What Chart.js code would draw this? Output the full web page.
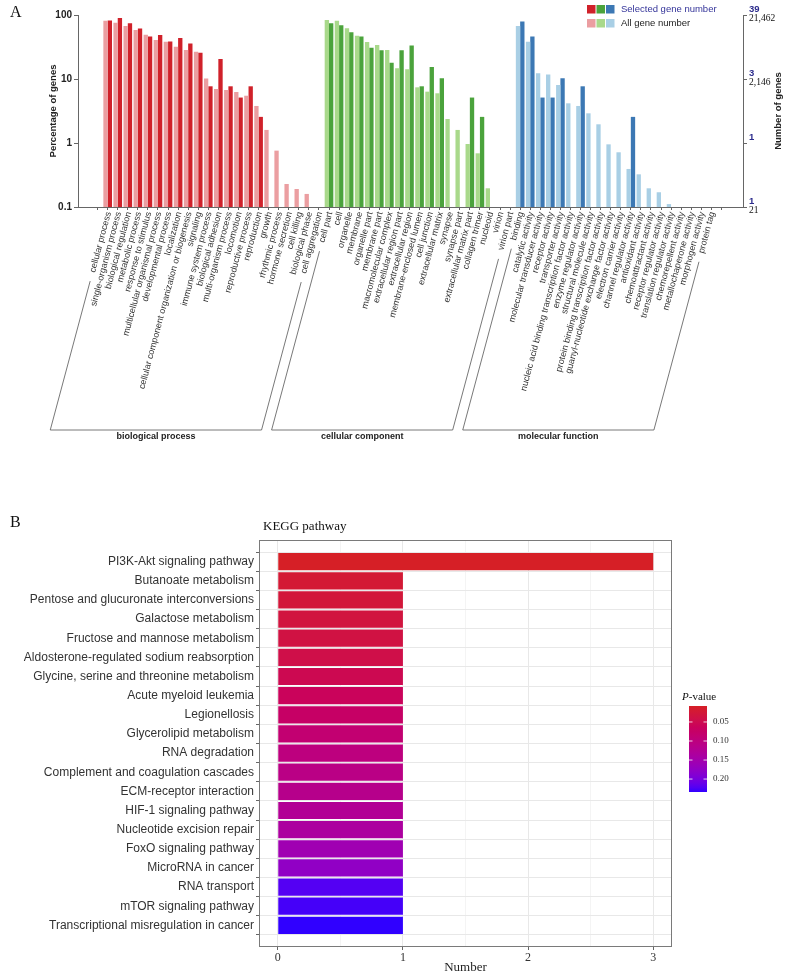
<!DOCTYPE html>
<html>
<head>
<meta charset="UTF-8">
<title>GO and KEGG enrichment</title>
<script src="https://cdn.jsdelivr.net/npm/chart.js"></script>
<style>
  body { margin: 0; background: #fff; }
  #goChart { position: absolute; left: 0; top: 0; }
  #keggChart { position: absolute; left: 0; top: 480px; }
</style>
</head>
<body>
<canvas id="goChart" width="789" height="480"></canvas>
<canvas id="keggChart" width="789" height="493"></canvas>
<script>
// ---- A: GO terms (percent of genes) ----
var bpTerms = ['cellular process', 'single-organism process', 'biological regulation', 'metabolic process',
  'response to stimulus', 'multicellular organismal process', 'developmental process', 'localization',
  'cellular component organization or biogenesis', 'signaling', 'immune system process', 'biological adhesion',
  'multi-organism process', 'locomotion', 'reproductive process', 'reproduction', 'growth', 'rhythmic process',
  'hormone secretion', 'cell killing', 'biological phase', 'cell aggregation'];
var bpAll = [81.5, 75.8, 67.3, 58.3, 49.2, 40.7, 38.3, 32.0, 28.4, 26.7, 10.2, 6.98, 6.73, 6.26, 5.48, 3.79, 1.60, 0.76, 0.229, 0.191, 0.160, null];
var bpSel = [82.1, 89.7, 74.4, 61.5, 46.2, 48.7, 38.5, 43.6, 35.9, 25.6, 7.69, 20.5, 7.69, 5.13, 7.69, 2.56, null, null, null, null, null, null];

var ccTerms = ['cell part', 'cell', 'organelle', 'membrane', 'organelle part', 'membrane part', 'macromolecular complex',
  'extracellular region part', 'extracellular region', 'membrane-enclosed lumen', 'cell junction', 'extracellular matrix',
  'synapse', 'synapse part', 'extracellular matrix part', 'collagen trimer', 'nucleoid', 'virion', 'virion part'];
var ccAll = [83.5, 81.5, 61.9, 47.5, 37.8, 34.0, 28.4, 14.7, 14.2, 7.41, 6.34, 5.98, 2.37, 1.60, 0.964, 0.69, 0.196, null, null];
var ccSel = [74.4, 69.2, 53.8, 46.2, 30.8, 28.2, 17.9, 28.2, 33.3, 7.69, 15.4, 10.3, null, null, 5.13, 2.56, null, null, null];

var mfTerms = ['binding', 'catalytic activity', 'molecular transducer activity', 'receptor activity', 'transporter activity',
  'nucleic acid binding transcription factor activity', 'enzyme regulator activity', 'structural molecule activity',
  'protein binding transcription factor activity', 'guanyl-nucleotide exchange factor activity', 'electron carrier activity',
  'channel regulator activity', 'antioxidant activity', 'chemoattractant activity', 'receptor regulator activity',
  'translation regulator activity', 'chemorepellent activity', 'metallochaperone activity', 'morphogen activity', 'protein tag'];
var mfAll = [67.3, 38.3, 12.3, 11.8, 8.06, 4.17, 3.79, 2.91, 1.96, 0.953, 0.716, 0.393, 0.324, 0.196, 0.170, 0.111, null, null, null, null];
var mfSel = [79.5, 46.2, 5.13, 5.13, 10.3, null, 7.69, null, null, null, null, 2.56, null, null, null, null, null, null, null, null];

var groupNames = ['biological process', 'cellular component', 'molecular function'];
var selColors = ['#d0212a', '#4ba33c', '#3c78b4'];
var allColors = ['#eb9ea1', '#a9d98b', '#a9cfe5'];

var yLevels = [0.1, 1, 10, 100];
var yLabels = ['0.1', '1', '10', '100'];
var rightSel = ['1', '1', '3', '39'];
var rightAll = ['21', '', '2,146', '21,462'];

// ---- B: KEGG pathways ----
var keggTerms = ['PI3K-Akt signaling pathway', 'Butanoate metabolism', 'Pentose and glucuronate interconversions',
  'Galactose metabolism', 'Fructose and mannose metabolism', 'Aldosterone-regulated sodium reabsorption',
  'Glycine, serine and threonine metabolism', 'Acute myeloid leukemia', 'Legionellosis', 'Glycerolipid metabolism',
  'RNA degradation', 'Complement and coagulation cascades', 'ECM-receptor interaction', 'HIF-1 signaling pathway',
  'Nucleotide excision repair', 'FoxO signaling pathway', 'MicroRNA in cancer', 'RNA transport',
  'mTOR signaling pathway', 'Transcriptional misregulation in cancer'];
var keggCounts = [3, 1, 1, 1, 1, 1, 1, 1, 1, 1, 1, 1, 1, 1, 1, 1, 1, 1, 1, 1];
var keggP = [0.008, 0.022, 0.027, 0.032, 0.037, 0.043, 0.052, 0.062, 0.073, 0.086,
  0.100, 0.108, 0.115, 0.125, 0.136, 0.156, 0.175, 0.222, 0.228, 0.234];
var pTicks = [0.05, 0.10, 0.15, 0.20];
var numberTicks = ['0', '1', '2', '3'];

var sans = '"Liberation Sans", Arial, sans-serif';
var serif = '"Liberation Serif", "Times New Roman", serif';

// combined GO arrays
var groups = [bpTerms, ccTerms, mfTerms];
var allTerms = [], allData = [], selData = [], allBg = [], selBg = [];
[[bpTerms, bpAll, bpSel], [ccTerms, ccAll, ccSel], [mfTerms, mfAll, mfSel]].forEach(function(g, gi) {
  g[0].forEach(function(t, i) {
    var k = allTerms.length;
    allTerms.push(t);
    allData.push({ x: k, y: g[1][i] });
    selData.push({ x: k, y: g[2][i] });
    allBg.push(allColors[gi]);
    selBg.push(selColors[gi]);
  });
});

var goPlugin = {
  id: 'goDecor',
  afterDraw: function(chart) {
    var ctx = chart.ctx, xs = chart.scales.x, ys = chart.scales.y, a = chart.chartArea;
    var ang = 75 * Math.PI / 180, cs = Math.cos(ang), sn = Math.sin(ang);
    var labelTop = 212, baseY = 430;
    ctx.save();

    // rotated term labels
    ctx.font = '9px ' + sans;
    ctx.fillStyle = '#333';
    var ends = [];
    allTerms.forEach(function(t, i) {
      var x = xs.getPixelForValue(i) + 1;
      ctx.save();
      ctx.translate(x, labelTop);
      ctx.rotate(-ang);
      ctx.textAlign = 'right';
      ctx.textBaseline = 'middle';
      ctx.fillText(t, 0, 0);
      ctx.restore();
      var w = ctx.measureText(t).width + 9;
      ends.push([x - w * cs, labelTop + w * sn]);
    });

    // group brackets
    ctx.strokeStyle = '#555';
    ctx.lineWidth = 0.8;
    ctx.font = 'bold 9px ' + sans;
    ctx.fillStyle = '#222';
    ctx.textAlign = 'center';
    ctx.textBaseline = 'middle';
    var start = 0;
    groups.forEach(function(g, gi) {
      var p = ends[start], q = ends[start + g.length - 1];
      var pb = p[0] - (baseY - p[1]) * cs / sn;
      var qb = q[0] - (baseY - q[1]) * cs / sn;
      ctx.beginPath();
      ctx.moveTo(p[0], p[1]);
      ctx.lineTo(pb, baseY);
      ctx.lineTo(qb, baseY);
      ctx.lineTo(q[0], q[1]);
      ctx.stroke();
      ctx.fillText(groupNames[gi], (pb + qb) / 2, 437);
      start += g.length;
    });

    // left axis title
    ctx.save();
    ctx.translate(53, (a.top + a.bottom) / 2);
    ctx.rotate(-Math.PI / 2);
    ctx.font = 'bold 9.5px ' + sans;
    ctx.fillText('Percentage of genes', 0, 0);
    ctx.restore();

    // right axis
    ctx.strokeStyle = '#666';
    ctx.lineWidth = 1;
    ctx.beginPath();
    ctx.moveTo(a.right + 0.5, a.top);
    ctx.lineTo(a.right + 0.5, a.bottom);
    ctx.stroke();
    ctx.textAlign = 'left';
    yLevels.forEach(function(v, i) {
      var y = ys.getPixelForValue(v);
      ctx.beginPath();
      ctx.moveTo(a.right, y + 0.5);
      ctx.lineTo(a.right + 4, y + 0.5);
      ctx.stroke();
      ctx.font = 'bold 9.5px ' + sans;
      ctx.fillStyle = '#2b2b8c';
      ctx.fillText(rightSel[i], a.right + 6, y - 6);
      ctx.font = '9.5px ' + serif;
      ctx.fillStyle = '#111';
      if (rightAll[i]) ctx.fillText(rightAll[i], a.right + 6, y + 3);
    });
    ctx.save();
    ctx.translate(778, (a.top + a.bottom) / 2);
    ctx.rotate(-Math.PI / 2);
    ctx.textAlign = 'center';
    ctx.font = 'bold 9.5px ' + sans;
    ctx.fillStyle = '#222';
    ctx.fillText('Number of genes', 0, 0);
    ctx.restore();

    // legend
    [selColors, allColors].forEach(function(cols, r) {
      cols.forEach(function(c, k) {
        ctx.fillStyle = c;
        ctx.fillRect(587 + k * 9.5, 5 + r * 14, 8.5, 8.5);
      });
    });
    ctx.font = '9.5px ' + sans;
    ctx.textBaseline = 'middle';
    ctx.fillStyle = '#333399';
    ctx.fillText(chart.data.datasets[1].label, 621, 9);
    ctx.fillStyle = '#222';
    ctx.fillText(chart.data.datasets[0].label, 621, 23);

    // panel letter
    ctx.font = '16px ' + serif;
    ctx.fillStyle = '#111';
    ctx.textBaseline = 'alphabetic';
    ctx.fillText('A', 10, 17);
    ctx.restore();
  }
};

new Chart(document.getElementById('goChart'), {
  type: 'bar',
  data: {
    datasets: [
      { label: 'All gene number', data: allData, backgroundColor: allBg, borderWidth: 0 },
      { label: 'Selected gene number', data: selData, backgroundColor: selBg, borderWidth: 0 }
    ]
  },
  options: {
    responsive: false,
    animation: false,
    layout: { padding: { top: 15, right: 46, left: 0, bottom: 0 } },
    barPercentage: 1,
    categoryPercentage: 0.86,
    plugins: { legend: { display: false }, tooltip: { enabled: false } },
    scales: {
      x: {
        type: 'linear', min: -2.95, max: 63.15, offset: false,
        afterBuildTicks: function(s) {
          var t = [];
          for (var i = 0; i <= allTerms.length; i++) t.push({ value: i - 0.5 });
          s.ticks = t;
        },
        afterFit: function(s) { s.height = 273; },
        ticks: { display: false },
        grid: { drawOnChartArea: false, drawTicks: true, tickLength: 3, color: '#666' },
        border: { display: true, color: '#666' }
      },
      y: {
        type: 'logarithmic', min: 0.1, max: 100,
        afterBuildTicks: function(s) { s.ticks = yLevels.map(function(v) { return { value: v }; }); },
        afterFit: function(s) { s.width = 78; },
        ticks: {
          callback: function(v, i) { return yLabels[i]; },
          font: { family: sans, size: 10, weight: 'bold' }, color: '#222', padding: 2
        },
        grid: { drawOnChartArea: false, tickLength: 4, color: '#666' },
        border: { display: true, color: '#666' }
      }
    }
  },
  plugins: [goPlugin]
});

// ---- colour scale for p-values (Lab interpolation, like ggplot) ----
function hexToRgb(h) { return [parseInt(h.substr(1, 2), 16), parseInt(h.substr(3, 2), 16), parseInt(h.substr(5, 2), 16)]; }
function rgbToLab(c) {
  var r = c.map(function(v) { v /= 255; return v > 0.04045 ? Math.pow((v + 0.055) / 1.055, 2.4) : v / 12.92; });
  var x = (r[0] * 0.4124 + r[1] * 0.3576 + r[2] * 0.1805) / 0.95047;
  var y = r[0] * 0.2126 + r[1] * 0.7152 + r[2] * 0.0722;
  var z = (r[0] * 0.0193 + r[1] * 0.1192 + r[2] * 0.9505) / 1.08883;
  function f(t) { return t > 0.008856 ? Math.cbrt(t) : 7.787 * t + 16 / 116; }
  return [116 * f(y) - 16, 500 * (f(x) - f(y)), 200 * (f(y) - f(z))];
}
function labToRgb(l) {
  var fy = (l[0] + 16) / 116, fx = fy + l[1] / 500, fz = fy - l[2] / 200;
  function fi(t) { return t > 0.206893 ? t * t * t : (t - 16 / 116) / 7.787; }
  var x = fi(fx) * 0.95047, y = fi(fy), z = fi(fz) * 1.08883;
  var r = [x * 3.2406 - y * 1.5372 - z * 0.4986, -x * 0.9689 + y * 1.8758 + z * 0.0415, x * 0.0557 - y * 0.2040 + z * 1.0570];
  return r.map(function(v) {
    v = v > 0.0031308 ? 1.055 * Math.pow(v, 1 / 2.4) - 0.055 : 12.92 * v;
    return Math.round(Math.max(0, Math.min(1, v)) * 255);
  });
}
var lowLab = rgbToLab(hexToRgb('#d61f26')), highLab = rgbToLab(hexToRgb('#3000ff'));
var pMin = Math.min.apply(null, keggP), pMax = Math.max.apply(null, keggP);
function pColor(p) {
  var t = (p - pMin) / (pMax - pMin);
  var c = labToRgb([0, 1, 2].map(function(k) { return lowLab[k] + (highLab[k] - lowLab[k]) * t; }));
  return 'rgb(' + c.join(',') + ')';
}

var keggPlugin = {
  id: 'keggDecor',
  afterDraw: function(chart) {
    var ctx = chart.ctx, a = chart.chartArea;
    ctx.save();
    // panel border
    ctx.strokeStyle = '#7a7a7a';
    ctx.lineWidth = 1;
    ctx.strokeRect(a.left + 0.5, a.top + 0.5, a.right - a.left - 1, a.bottom - a.top - 1);

    ctx.fillStyle = '#111';
    ctx.font = '16px ' + serif;
    ctx.fillText('B', 10, 47);
    ctx.font = '13px ' + serif;
    ctx.textBaseline = 'middle';
    ctx.fillText('KEGG pathway', 263, 47);
    ctx.textAlign = 'center';
    ctx.fillStyle = '#222';
    ctx.fillText('Number', (a.left + a.right) / 2, 488);

    // colour bar
    var bx = 689, bw = 18, top = 226, h = 86;
    var grad = ctx.createLinearGradient(0, top, 0, top + h);
    for (var s = 0; s <= 20; s++) grad.addColorStop(s / 20, pColor(pMin + (pMax - pMin) * s / 20));
    ctx.fillStyle = grad;
    ctx.fillRect(bx, top, bw, h);
    ctx.textAlign = 'left';
    ctx.font = '9px ' + serif;
    pTicks.forEach(function(p) {
      var y = top + (p - pMin) / (pMax - pMin) * h;
      ctx.strokeStyle = 'rgba(255,255,255,0.8)';
      ctx.beginPath();
      ctx.moveTo(bx, y); ctx.lineTo(bx + 3.5, y);
      ctx.moveTo(bx + bw - 3.5, y); ctx.lineTo(bx + bw, y);
      ctx.stroke();
      ctx.fillStyle = '#333';
      ctx.fillText(p.toFixed(2), 713, y);
    });
    ctx.fillStyle = '#111';
    ctx.font = 'italic 11px ' + serif;
    ctx.fillText('P', 682, 217);
    var pw = ctx.measureText('P').width;
    ctx.font = '11px ' + serif;
    ctx.fillText('-value', 682 + pw, 217);
    ctx.restore();
  }
};

new Chart(document.getElementById('keggChart'), {
  type: 'bar',
  data: {
    datasets: [{
      label: 'Number',
      data: keggCounts.map(function(v, i) { return { x: v, y: i }; }),
      backgroundColor: keggP.map(pColor),
      borderWidth: 0,
      barPercentage: 0.9,
      categoryPercentage: 1
    }]
  },
  options: {
    indexAxis: 'y',
    responsive: false,
    animation: false,
    layout: { padding: { top: 60, right: 117, left: 0, bottom: 0 } },
    plugins: { legend: { display: false }, tooltip: { enabled: false } },
    scales: {
      x: {
        type: 'linear', min: -0.15, max: 3.15,
        afterBuildTicks: function(s) { s.ticks = [0, 0.5, 1, 1.5, 2, 2.5, 3].map(function(v) { return { value: v }; }); },
        afterFit: function(s) { s.height = 26; },
        ticks: {
          callback: function(v) { return v % 1 === 0 ? numberTicks[v] : ''; },
          font: { family: serif, size: 12 }, color: '#333', padding: 1, maxRotation: 0, autoSkip: false
        },
        grid: {
          color: function(c) { return c.tick && c.tick.value % 1 ? '#f4f4f4' : '#e8e8e8'; },
          tickColor: function(c) { return c.tick && c.tick.value % 1 ? 'rgba(0,0,0,0)' : '#666'; },
          tickLength: 3
        },
        border: { display: false }
      },
      y: {
        type: 'linear', min: -0.6, max: 19.6, reverse: true,
        afterBuildTicks: function(s) { s.ticks = keggTerms.map(function(t, i) { return { value: i }; }); },
        afterFit: function(s) { s.width = 259; },
        ticks: {
          callback: function(v) { return keggTerms[v]; },
          font: { family: sans, size: 12 }, color: '#333', padding: 2, autoSkip: false
        },
        grid: { color: '#e8e8e8', tickColor: '#666', tickLength: 3 },
        border: { display: false }
      }
    }
  },
  plugins: [keggPlugin]
});
</script>
</body>
</html>
